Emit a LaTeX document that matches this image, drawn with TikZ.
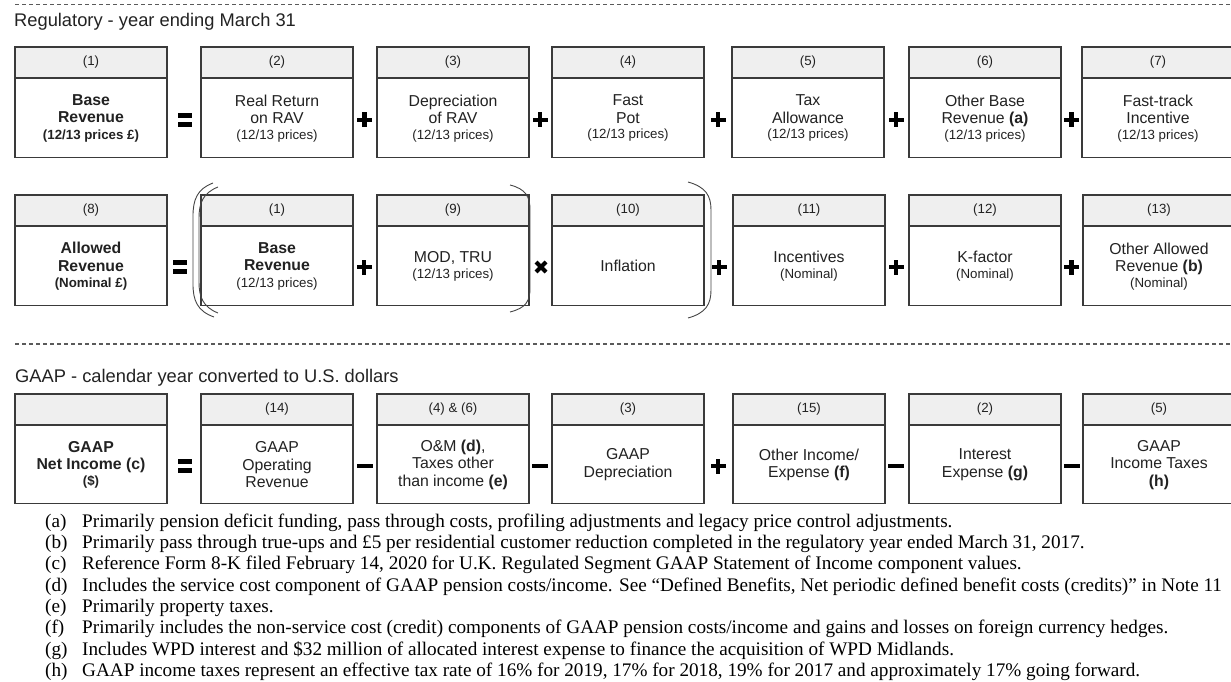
\documentclass[tikz,border=0pt]{standalone}
\usepackage{fontspec}
\setmainfont{Liberation Serif}
\setsansfont{Liberation Sans}
\usetikzlibrary{positioning}

\definecolor{boxline}{HTML}{3A3A3A}
\definecolor{hdrgray}{HTML}{EFEFEF}
\definecolor{inktext}{HTML}{222222}
\definecolor{dashgray}{HTML}{5A5A5A}
\definecolor{parengray}{HTML}{444444}

\newcommand{\boxnum}{\fontsize{13.3}{15}\selectfont}
\newcommand{\boxmain}{\fontsize{15.8}{17.5}\selectfont}
\newcommand{\boxsmall}{\fontsize{13.3}{14}\selectfont}
\newcommand{\sectitle}{\fontsize{18.3}{20}\selectfont}
\newcommand{\notefont}{\fontsize{19.2}{21}\selectfont}

\tikzset{
	hdr/.style={draw=boxline,line width=1.1pt,fill=hdrgray,minimum width=152pt,minimum height=31pt,inner sep=0pt,outer sep=0pt,font=\sffamily\boxnum,text=inktext},
	bdy/.style={draw=boxline,line width=1.1pt,fill=white,minimum width=152pt,minimum height=79pt,inner sep=0pt,outer sep=0pt,align=center,font=\sffamily\boxmain,text=inktext},
	sectitle/.style={anchor=base west,inner sep=0pt,font=\sffamily\sectitle,text=inktext},
	secdash/.style={draw=dashgray,line width=1.2pt,dash pattern=on 4pt off 3pt},
	paren/.style={draw=parengray,line width=0.9pt},
	note/.style={anchor=base west,inner sep=0pt,font=\rmfamily\notefont,text=black},
	pics/opplus/.style={code={\fill[black] (-7.5,-2.4) rectangle (7.5,2.4); \fill[black] (-2.4,-7.5) rectangle (2.4,7.5);}},
	pics/opminus/.style={code={\fill[black] (-8,-2.4) rectangle (8,2.4);}},
	pics/opeq/.style={code={\fill[black] (-7,-6.8) rectangle (7,-2.2); \fill[black] (-7,2.2) rectangle (7,6.8);}},
	pics/optimes/.style={code={\draw[black,line width=4.2pt] (-5,-5) -- (5,5); \draw[black,line width=4.2pt] (-5,5) -- (5,-5);}}
}

\begin{document}
\begin{tikzpicture}[x=1pt,y=-1pt]
	\useasboundingbox (0,0) rectangle (1231,682);

	%section rules and titles
	\draw[secdash] (15,4.5) -- (1231,4.5); %top rule
	\node[sectitle] (regtitle) at (14,27) {Regulatory - year ending March 31};
	\draw[secdash] (15,344) -- (1231,344); %middle rule
	\node[sectitle] (gaaptitle) at (15,382) {GAAP - calendar year converted to U.S. dollars};

	%Base revenue row----------------------------------------------
	\node[hdr] (h11) at (91,62.5) {(1)};
	\node[bdy,below=0.8pt of h11] (b11) {\textbf{Base}\\\textbf{Revenue}\\[-1pt]{\boxsmall\bfseries (12/13 prices £)}};
	\node[hdr] (h12) at (277,62.5) {(2)};
	\node[bdy,below=0.8pt of h12] (b12) {Real Return\\on RAV\\[-2pt]{\boxsmall (12/13 prices)}};
	\node[hdr] (h13) at (453,62.5) {(3)};
	\node[bdy,below=0.8pt of h13] (b13) {Depreciation\\of RAV\\[-2pt]{\boxsmall (12/13 prices)}};
	\node[hdr] (h14) at (628,62.5) {(4)};
	\node[bdy,below=0.8pt of h14] (b14) {Fast\\Pot\\[-2pt]{\boxsmall (12/13 prices)}};
	\node[hdr] (h15) at (808,62.5) {(5)};
	\node[bdy,below=0.8pt of h15] (b15) {Tax\\Allowance\\[-2pt]{\boxsmall (12/13 prices)}};
	\node[hdr] (h16) at (985,62.5) {(6)};
	\node[bdy,below=0.8pt of h16] (b16) {Other Base\\Revenue \textbf{(a)}\\[-2pt]{\boxsmall (12/13 prices)}};
	\node[hdr] (h17) at (1158,62.5) {(7)};
	\node[bdy,below=0.8pt of h17] (b17) {Fast-track\\Incentive\\[-2pt]{\boxsmall (12/13 prices)}};
		%operators
		\pic at (185,120) {opeq};
		\pic at (364.5,120) {opplus};
		\pic at (540,120) {opplus};
		\pic at (718,120) {opplus};
		\pic at (896,120) {opplus};
		\pic at (1071.5,120) {opplus};

	%Allowed revenue row-------------------------------------------
	\node[hdr] (h21) at (91,210.5) {(8)};
	\node[bdy,below=0.8pt of h21] (b21) {\textbf{Allowed}\\\textbf{Revenue}\\[-1pt]{\boxsmall\bfseries (Nominal £)}};
	\node[hdr] (h22) at (277,210.5) {(1)};
	\node[bdy,below=0.8pt of h22] (b22) {\textbf{Base}\\\textbf{Revenue}\\[-1pt]{\boxsmall (12/13 prices)}};
	\node[hdr] (h23) at (453,210.5) {(9)};
	\node[bdy,below=0.8pt of h23] (b23) {MOD, TRU\\[-2pt]{\boxsmall (12/13 prices)}};
	\node[hdr] (h24) at (628,210.5) {(10)};
	\node[bdy,below=0.8pt of h24] (b24) {Inflation};
	\node[hdr] (h25) at (809,210.5) {(11)};
	\node[bdy,below=0.8pt of h25] (b25) {Incentives\\[-2pt]{\boxsmall (Nominal)}};
	\node[hdr] (h26) at (985,210.5) {(12)};
	\node[bdy,below=0.8pt of h26] (b26) {K-factor\\[-2pt]{\boxsmall (Nominal)}};
	\node[hdr] (h27) at (1159,210.5) {(13)};
	\node[bdy,below=0.8pt of h27] (b27) {Other Allowed\\Revenue \textbf{(b)}\\[-2pt]{\boxsmall (Nominal)}};
		%parentheses
		\draw[paren] (213,183) .. controls (197,189) and (193,200) .. (193,216) -- (193,284) .. controls (193,300) and (197,311) .. (214,317); %outer (
		\draw[paren] (218,187) .. controls (203,193) and (199,203) .. (199,218) -- (199,282) .. controls (199,297) and (203,307) .. (218,313); %inner (
		\draw[paren] (510,185) .. controls (526,189) and (530,197) .. (530,210) -- (530,288) .. controls (530,301) and (526,308) .. (510,312); %inner )
		\draw[paren] (688,182) .. controls (706,187) and (711,196) .. (711,210) -- (711,290) .. controls (711,304) and (706,313) .. (688,318); %outer )
		%operators
		\pic at (180,267) {opeq};
		\pic at (364,267) {opplus};
		\pic at (541,267) {optimes};
		\pic at (719,267) {opplus};
		\pic at (896,267) {opplus};
		\pic at (1071.5,267) {opplus};

	%GAAP row------------------------------------------------------
	\node[hdr] (h31) at (91,409.5) {};
	\node[bdy,minimum height=78pt,below=0.8pt of h31] (b31) {\textbf{GAAP}\\\textbf{Net Income (c)}\\[-2pt]{\boxsmall\bfseries (\$)}};
	\node[hdr] (h32) at (277,409.5) {(14)};
	\node[bdy,minimum height=78pt,below=0.8pt of h32] (b32) {GAAP\\Operating\\Revenue};
	\node[hdr] (h33) at (453,409.5) {(4) \& (6)};
	\node[bdy,minimum height=78pt,below=0.8pt of h33] (b33) {O\&M \textbf{(d)},\\Taxes other\\than income \textbf{(e)}};
	\node[hdr] (h34) at (628,409.5) {(3)};
	\node[bdy,minimum height=78pt,below=0.8pt of h34] (b34) {GAAP\\Depreciation};
	\node[hdr] (h35) at (809,409.5) {(15)};
	\node[bdy,minimum height=78pt,below=0.8pt of h35] (b35) {Other Income/\\Expense \textbf{(f)}};
	\node[hdr] (h36) at (985,409.5) {(2)};
	\node[bdy,minimum height=78pt,below=0.8pt of h36] (b36) {Interest\\Expense \textbf{(g)}};
	\node[hdr] (h37) at (1159,409.5) {(5)};
	\node[bdy,minimum height=78pt,below=0.8pt of h37] (b37) {GAAP\\Income Taxes\\\textbf{(h)}};
		%operators
		\pic at (185,466) {opeq};
		\pic at (365,466) {opminus};
		\pic at (540,466) {opminus};
		\pic at (718,466) {opplus};
		\pic at (896,466) {opminus};
		\pic at (1071.5,466) {opminus};

	%footnotes
	\node[note] (la) at (45,527) {(a)};
	\node[note] (na) at (82,527) {Primarily pension deficit funding, pass through costs, profiling adjustments and legacy price control adjustments.};
	\node[note] (lb) at (45,548) {(b)};
	\node[note] (nb) at (82,548) {Primarily pass through true-ups and £5 per residential customer reduction completed in the regulatory year ended March 31, 2017.};
	\node[note] (lc) at (45,569.5) {(c)};
	\node[note] (nc) at (82,569.5) {Reference Form 8-K filed February 14, 2020 for U.K. Regulated Segment GAAP Statement of Income component values.};
	\node[note] (ld) at (45,591) {(d)};
	\node[note] (nd) at (82,591) {Includes the service cost component of GAAP pension costs/income. See “Defined Benefits, Net periodic defined benefit costs (credits)” in Note 11};
	\node[note] (le) at (45,612) {(e)};
	\node[note] (ne) at (82,612) {Primarily property taxes.};
	\node[note] (lf) at (45,633.5) {(f)};
	\node[note] (nf) at (82,633.5) {Primarily includes the non-service cost (credit) components of GAAP pension costs/income and gains and losses on foreign currency hedges.};
	\node[note] (lg) at (45,655) {(g)};
	\node[note] (ng) at (82,655) {Includes WPD interest and \$32 million of allocated interest expense to finance the acquisition of WPD Midlands.};
	\node[note] (lh) at (45,676.5) {(h)};
	\node[note] (nh) at (82,676.5) {GAAP income taxes represent an effective tax rate of 16\% for 2019, 17\% for 2018, 19\% for 2017 and approximately 17\% going forward.};
\end{tikzpicture}
\end{document}
